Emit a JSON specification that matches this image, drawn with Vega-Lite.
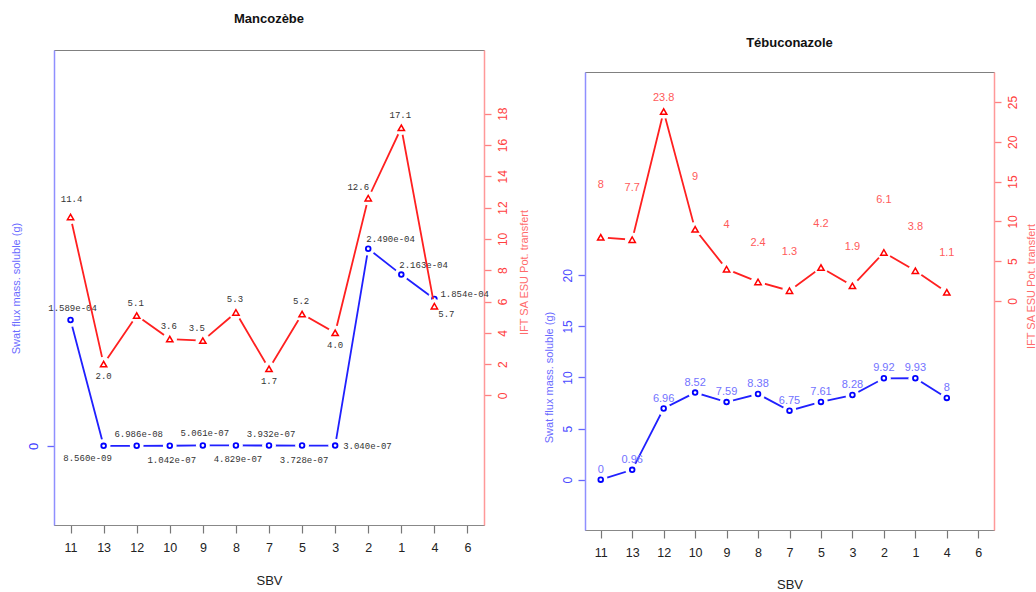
{
  "$schema": "https://vega.github.io/schema/vega-lite/v6.json",
  "padding": {"left": 9, "top": 12, "right": 0, "bottom": 0},
  "background": "white",
  "config": {
    "view": {"stroke": "#808080", "strokeWidth": 1},
    "font": "Liberation Sans",
    "axis": {"grid": false, "labelFont": "Liberation Sans", "titleFont": "Liberation Sans", "titleFontWeight": "normal", "labelOverlap": false}
  },
  "datasets": {
    "manco": [
      {"SBV": "11", "flux": 1.589e-4, "fluxLabel": "1.589e-04", "ift": 11.4, "iftLabel": "11.4"},
      {"SBV": "13", "flux": 8.56e-9, "fluxLabel": "8.560e-09", "ift": 2.0, "iftLabel": "2.0"},
      {"SBV": "12", "flux": 6.986e-8, "fluxLabel": "6.986e-08", "ift": 5.1, "iftLabel": "5.1"},
      {"SBV": "10", "flux": 1.042e-7, "fluxLabel": "1.042e-07", "ift": 3.6, "iftLabel": "3.6"},
      {"SBV": "9", "flux": 5.061e-7, "fluxLabel": "5.061e-07", "ift": 3.5, "iftLabel": "3.5"},
      {"SBV": "8", "flux": 4.829e-7, "fluxLabel": "4.829e-07", "ift": 5.3, "iftLabel": "5.3"},
      {"SBV": "7", "flux": 3.932e-7, "fluxLabel": "3.932e-07", "ift": 1.7, "iftLabel": "1.7"},
      {"SBV": "5", "flux": 3.728e-7, "fluxLabel": "3.728e-07", "ift": 5.2, "iftLabel": "5.2"},
      {"SBV": "3", "flux": 3.04e-7, "fluxLabel": "3.040e-07", "ift": 4.0, "iftLabel": "4.0"},
      {"SBV": "2", "flux": 2.49e-4, "fluxLabel": "2.490e-04", "ift": 12.6, "iftLabel": "12.6"},
      {"SBV": "1", "flux": 2.163e-4, "fluxLabel": "2.163e-04", "ift": 17.1, "iftLabel": "17.1"},
      {"SBV": "4", "flux": 1.854e-4, "fluxLabel": "1.854e-04", "ift": 5.7, "iftLabel": "5.7"}
    ],
    "tebu": [
      {"SBV": "11", "flux": 0, "fluxLabel": "0", "ift": 8, "iftLabel": "8"},
      {"SBV": "13", "flux": 0.96, "fluxLabel": "0.96", "ift": 7.7, "iftLabel": "7.7"},
      {"SBV": "12", "flux": 6.96, "fluxLabel": "6.96", "ift": 23.8, "iftLabel": "23.8"},
      {"SBV": "10", "flux": 8.52, "fluxLabel": "8.52", "ift": 9, "iftLabel": "9"},
      {"SBV": "9", "flux": 7.59, "fluxLabel": "7.59", "ift": 4, "iftLabel": "4"},
      {"SBV": "8", "flux": 8.38, "fluxLabel": "8.38", "ift": 2.4, "iftLabel": "2.4"},
      {"SBV": "7", "flux": 6.75, "fluxLabel": "6.75", "ift": 1.3, "iftLabel": "1.3"},
      {"SBV": "5", "flux": 7.61, "fluxLabel": "7.61", "ift": 4.2, "iftLabel": "4.2"},
      {"SBV": "3", "flux": 8.28, "fluxLabel": "8.28", "ift": 1.9, "iftLabel": "1.9"},
      {"SBV": "2", "flux": 9.92, "fluxLabel": "9.92", "ift": 6.1, "iftLabel": "6.1"},
      {"SBV": "1", "flux": 9.93, "fluxLabel": "9.93", "ift": 3.8, "iftLabel": "3.8"},
      {"SBV": "4", "flux": 8, "fluxLabel": "8", "ift": 1.1, "iftLabel": "1.1"}
    ]
  },
  "hconcat": [
    {
      "width": 430,
      "height": 475,
      "title": {"text": "Mancozèbe", "font": "Liberation Sans", "fontSize": 13, "fontWeight": "bold", "color": "#111111", "frame": "group", "anchor": "middle", "offset": 24},
      "data": {"name": "manco"},
      "encoding": {
        "x": {"field": "SBV", "type": "ordinal",
          "scale": {"type": "point", "domain": ["11","13","12","10","9","8","7","5","3","2","1","4","6"], "padding": 0.5},
          "axis": {"title": "SBV", "titleFontSize": 13, "titleColor": "#222222", "titlePadding": 21, "labelAngle": 0, "labelFontSize": 12.5, "labelColor": "#222222", "labelPadding": 8, "tickSize": 8, "tickColor": "#777777", "tickWidth": 1.2, "domainColor": "#888888"}}
      },
      "layer": [
        {
          "encoding": {"y": {"field": "flux", "type": "quantitative", "scale": {"domain": [-0.0001, 0.0005], "nice": false, "zero": false},
             "axis": {"orient": "left", "values": [0], "format": ".0f", "title": "Swat flux mass. soluble (g)", "titleColor": "#6b6bff", "titleFontSize": 11, "titleAngle": 270, "titleAlign": "center", "titleBaseline": "middle", "titleX": -38, "titleY": 238,
               "domainColor": "#8f8fff", "domainWidth": 1.5, "tickColor": "#6666ff", "tickSize": 7, "tickWidth": 1.3, "labelColor": "#3a3aff", "labelFontSize": 13, "labelAngle": 270, "labelAlign": "center", "labelBaseline": "bottom", "labelPadding": 7}}},
          "layer": [
            {"mark": {"type": "line", "color": "#2020ff", "strokeWidth": 1.8}, "encoding": {"order": {"value": null}}},
            {"mark": {"type": "circle", "color": "#ffffff", "opacity": 1, "size": 190}},
            {"mark": {"type": "point", "shape": "circle", "filled": false, "color": "#0000ff", "opacity": 1, "size": 22, "strokeWidth": 1.8}},
            {"transform": [{"filter": {"field": "SBV", "oneOf": ["11","12","9","7"]}}],
             "mark": {"type": "text", "font": "Liberation Mono", "fontSize": 9, "color": "#333333", "dx": 2, "dy": -12},
             "encoding": {"text": {"field": "fluxLabel"}}},
            {"transform": [{"filter": {"field": "SBV", "oneOf": ["10","8","5"]}}],
             "mark": {"type": "text", "font": "Liberation Mono", "fontSize": 9, "color": "#333333", "dx": 2, "dy": 14},
             "encoding": {"text": {"field": "fluxLabel"}}},
            {"transform": [{"filter": {"field": "SBV", "oneOf": ["13"]}}],
             "mark": {"type": "text", "font": "Liberation Mono", "fontSize": 9, "color": "#333333", "dx": -16, "dy": 12},
             "encoding": {"text": {"field": "fluxLabel"}}},
            {"transform": [{"filter": {"field": "SBV", "oneOf": ["2","1"]}}],
             "mark": {"type": "text", "font": "Liberation Mono", "fontSize": 9, "color": "#333333", "align": "left", "dx": -2, "dy": -10},
             "encoding": {"text": {"field": "fluxLabel"}}},
            {"transform": [{"filter": {"field": "SBV", "oneOf": ["3"]}}],
             "mark": {"type": "text", "font": "Liberation Mono", "fontSize": 9, "color": "#333333", "align": "left", "dx": 8, "dy": 0},
             "encoding": {"text": {"field": "fluxLabel"}}},
            {"transform": [{"filter": {"field": "SBV", "oneOf": ["4"]}}],
             "mark": {"type": "text", "font": "Liberation Mono", "fontSize": 9, "color": "#333333", "align": "left", "dx": 6, "dy": -5},
             "encoding": {"text": {"field": "fluxLabel"}}}
          ]
        },
        {
          "encoding": {"y": {"field": "ift", "type": "quantitative", "scale": {"domain": [-8.28, 22.07], "nice": false, "zero": false},
             "axis": {"orient": "right", "values": [0,2,4,6,8,10,12,14,16,18], "title": "IFT SA ESU Pot. transfert", "titleColor": "#ff6b6b", "titleFontSize": 11, "titleAngle": 270, "titleAlign": "center", "titleBaseline": "middle", "titleX": 40, "titleY": 222,
               "domainColor": "#ff9999", "domainWidth": 1.5, "tickColor": "#ff8080", "tickSize": 7, "tickWidth": 1.3, "labelColor": "#ff4040", "labelFontSize": 12, "labelAngle": 270, "labelAlign": "center", "labelBaseline": "top", "labelPadding": 6}}},
          "layer": [
            {"mark": {"type": "line", "color": "#ff2020", "strokeWidth": 1.8}, "encoding": {"order": {"value": null}}},
            {"mark": {"type": "circle", "color": "#ffffff", "opacity": 1, "size": 210}},
            {"mark": {"type": "point", "shape": "triangle-up", "filled": false, "color": "#ff0000", "opacity": 1, "size": 40, "strokeWidth": 1.5}},
            {"transform": [{"filter": {"field": "SBV", "oneOf": ["12","10","8","5","1"]}}],
             "mark": {"type": "text", "font": "Liberation Mono", "fontSize": 9, "color": "#333333", "dx": -1, "dy": -13},
             "encoding": {"text": {"field": "iftLabel"}}},
            {"transform": [{"filter": {"field": "SBV", "oneOf": ["9"]}}],
             "mark": {"type": "text", "font": "Liberation Mono", "fontSize": 9, "color": "#333333", "dx": -6, "dy": -13},
             "encoding": {"text": {"field": "iftLabel"}}},
            {"transform": [{"filter": {"field": "SBV", "oneOf": ["11"]}}],
             "mark": {"type": "text", "font": "Liberation Mono", "fontSize": 9, "color": "#333333", "dx": 1, "dy": -18},
             "encoding": {"text": {"field": "iftLabel"}}},
            {"transform": [{"filter": {"field": "SBV", "oneOf": ["2"]}}],
             "mark": {"type": "text", "font": "Liberation Mono", "fontSize": 9, "color": "#333333", "dx": -10, "dy": -11},
             "encoding": {"text": {"field": "iftLabel"}}},
            {"transform": [{"filter": {"field": "SBV", "oneOf": ["13","7","3"]}}],
             "mark": {"type": "text", "font": "Liberation Mono", "fontSize": 9, "color": "#333333", "dx": 0, "dy": 12},
             "encoding": {"text": {"field": "iftLabel"}}},
            {"transform": [{"filter": {"field": "SBV", "oneOf": ["4"]}}],
             "mark": {"type": "text", "font": "Liberation Mono", "fontSize": 9, "color": "#333333", "dx": 12, "dy": 8},
             "encoding": {"text": {"field": "iftLabel"}}}
          ]
        }
      ],
      "resolve": {"scale": {"y": "independent"}}
    },
    {
      "vconcat": [
        {"width": 409, "height": 22, "view": {"stroke": null}, "data": {"values": [{"a": 1}]}, "mark": {"type": "point", "opacity": 0}},
        {
          "width": 409,
          "height": 458,
          "title": {"text": "Tébuconazole", "font": "Liberation Sans", "fontSize": 13, "fontWeight": "bold", "color": "#111111", "frame": "group", "anchor": "middle", "offset": 22},
          "data": {"name": "tebu"},
          "encoding": {
            "x": {"field": "SBV", "type": "ordinal",
              "scale": {"type": "point", "domain": ["11","13","12","10","9","8","7","5","3","2","1","4","6"], "padding": 0.5},
              "axis": {"title": "SBV", "titleFontSize": 13, "titleColor": "#222222", "titlePadding": 20, "labelAngle": 0, "labelFontSize": 12.5, "labelColor": "#222222", "labelPadding": 8, "tickSize": 8, "tickColor": "#777777", "tickWidth": 1.2, "domainColor": "#888888"}}
          },
          "layer": [
            {
              "encoding": {"y": {"field": "flux", "type": "quantitative", "scale": {"domain": [-4.93, 39.9], "nice": false, "zero": false},
                 "axis": {"orient": "left", "values": [0,5,10,15,20], "title": "Swat flux mass. soluble (g)", "titleColor": "#6b6bff", "titleFontSize": 11, "titleAngle": 270, "titleAlign": "center", "titleBaseline": "middle", "titleX": -36, "titleY": 305,
                   "domainColor": "#8f8fff", "domainWidth": 1.5, "tickColor": "#6666ff", "tickSize": 7, "tickWidth": 1.3, "labelColor": "#4a4aff", "labelFontSize": 12, "labelAngle": 270, "labelAlign": "center", "labelBaseline": "bottom", "labelPadding": 4}}},
              "layer": [
                {"mark": {"type": "line", "color": "#2020ff", "strokeWidth": 1.8}, "encoding": {"order": {"value": null}}},
                {"mark": {"type": "circle", "color": "#ffffff", "opacity": 1, "size": 190}},
                {"mark": {"type": "point", "shape": "circle", "filled": false, "color": "#0000ff", "opacity": 1, "size": 22, "strokeWidth": 1.8}},
                {"mark": {"type": "text", "font": "Liberation Sans", "fontSize": 11, "color": "#7272ff", "dy": -10},
                 "encoding": {"text": {"field": "fluxLabel"}}}
              ]
            },
            {
              "encoding": {"y": {"field": "ift", "type": "quantitative", "scale": {"domain": [-28.77, 28.77], "nice": false, "zero": false},
                 "axis": {"orient": "right", "values": [0,5,10,15,20,25], "title": "IFT SA ESU Pot. transfert", "titleColor": "#ff6b6b", "titleFontSize": 11, "titleAngle": 270, "titleAlign": "center", "titleBaseline": "middle", "titleX": 37, "titleY": 214,
                   "domainColor": "#ff9999", "domainWidth": 1.5, "tickColor": "#ff8080", "tickSize": 7, "tickWidth": 1.3, "labelColor": "#ff4040", "labelFontSize": 12, "labelAngle": 270, "labelAlign": "center", "labelBaseline": "top", "labelPadding": 6}}},
              "layer": [
                {"mark": {"type": "line", "color": "#ff2020", "strokeWidth": 1.8}, "encoding": {"order": {"value": null}}},
                {"mark": {"type": "circle", "color": "#ffffff", "opacity": 1, "size": 210}},
                {"mark": {"type": "point", "shape": "triangle-up", "filled": false, "color": "#ff0000", "opacity": 1, "size": 40, "strokeWidth": 1.5}},
                {"transform": [{"filter": {"field": "SBV", "oneOf": ["12"]}}],
                 "mark": {"type": "text", "font": "Liberation Sans", "fontSize": 11, "color": "#ff5a5a", "dy": -14},
                 "encoding": {"text": {"field": "iftLabel"}}},
                {"transform": [{"filter": {"field": "SBV", "oneOf": ["11","13","10","2"]}}],
                 "mark": {"type": "text", "font": "Liberation Sans", "fontSize": 11, "color": "#ff5a5a", "dy": -52},
                 "encoding": {"text": {"field": "iftLabel"}}},
                {"transform": [{"filter": {"field": "SBV", "oneOf": ["9","5","1"]}}],
                 "mark": {"type": "text", "font": "Liberation Sans", "fontSize": 11, "color": "#ff5a5a", "dy": -44},
                 "encoding": {"text": {"field": "iftLabel"}}},
                {"transform": [{"filter": {"field": "SBV", "oneOf": ["8","7","3","4"]}}],
                 "mark": {"type": "text", "font": "Liberation Sans", "fontSize": 11, "color": "#ff5a5a", "dy": -39},
                 "encoding": {"text": {"field": "iftLabel"}}}
              ]
            }
          ],
          "resolve": {"scale": {"y": "independent"}}
        }
      ],
      "spacing": 0,
      "bounds": "flush"
    }
  ],
  "spacing": 101,
  "bounds": "flush"
}
